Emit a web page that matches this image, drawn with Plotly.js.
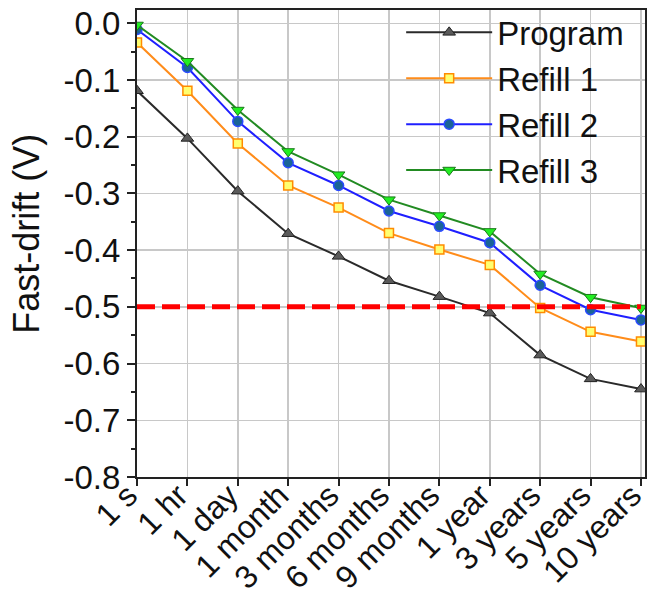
<!DOCTYPE html>
<html>
<head>
<meta charset="utf-8">
<script src="https://cdn.plot.ly/plotly-3.0.1.min.js"></script>
<style>html,body{margin:0;padding:0;background:#fff;}</style>
</head>
<body>
<div id="chart" style="width:649px;height:602px;"></div>
<script>
const categories = ['1 s','1 hr','1 day','1 month','3 months','6 months','9 months','1 year','3 years','5 years','10 years'];
const program = [-0.119,-0.203,-0.296,-0.371,-0.411,-0.454,-0.482,-0.511,-0.585,-0.627,-0.645];
const refill1 = [-0.034,-0.119,-0.212,-0.286,-0.325,-0.370,-0.399,-0.426,-0.502,-0.544,-0.561];
const refill2 = [-0.011,-0.078,-0.173,-0.246,-0.286,-0.331,-0.358,-0.387,-0.462,-0.505,-0.523];
const refill3 = [-0.003,-0.067,-0.153,-0.226,-0.267,-0.311,-0.339,-0.367,-0.442,-0.483,-0.502];
const threshold = -0.5;
const yTickVals = [0,-0.1,-0.2,-0.3,-0.4,-0.5,-0.6,-0.7,-0.8];
const yTickText = ['0.0','-0.1','-0.2','-0.3','-0.4','-0.5','-0.6','-0.7','-0.8'];

const FONT = 'Liberation Sans, Arial, sans-serif';

const traces = [
  {x: categories, y: program, name:'Program', mode:'lines+markers', legendgroup:'a',
   line:{color:'#2a2a2a', width:2},
   marker:{symbol:'triangle-up', size:11, color:'#5a5a5a', line:{color:'#222', width:1}}},
  {x: categories, y: refill1, name:'Refill 1', mode:'lines+markers', legendgroup:'b',
   line:{color:'#ff8c1a', width:2},
   marker:{symbol:'square', size:9, color:'#ffff70', line:{color:'#ff8c00', width:1.5}}},
  {x: categories, y: refill2, name:'Refill 2', mode:'lines+markers', legendgroup:'c',
   line:{color:'#1f1fff', width:2},
   marker:{symbol:'circle', size:10, color:'#1a6496', line:{color:'#2a4bff', width:1.5}}},
  {x: categories, y: refill3, name:'Refill 3', mode:'lines+markers', legendgroup:'d',
   line:{color:'#228b22', width:2},
   marker:{symbol:'triangle-down', size:11, color:'#22ee22', line:{color:'#1a7a1a', width:1}}},
  {x: [categories[0], categories[categories.length-1]], y: [threshold, threshold], mode:'lines',
   line:{color:'#ff0000', width:5, dash:'18px,7px'}, showlegend:false, hoverinfo:'skip'}
];

const layout = {
  width:649, height:602,
  margin:{l:137, r:4, t:10, b:125},
  paper_bgcolor:'#fff', plot_bgcolor:'#fff',
  font:{family:FONT, color:'#111', size:33},
  showlegend:true,
  legend:{x:0.52, y:1.012, xanchor:'left', yanchor:'top', bgcolor:'rgba(0,0,0,0)',
    font:{family:FONT, size:33, color:'#111'}, tracegroupgap:3, itemwidth:86,
    traceorder:'normal'},
  xaxis:{type:'category', categoryorder:'array', categoryarray:categories, range:[0, 10.08],
    showgrid:true, gridcolor:'#c8c8c8', gridwidth:1.5,
    showline:true, linecolor:'#222', linewidth:2, mirror:true,
    ticks:'outside', ticklen:7, tickwidth:2, tickcolor:'#222',
    tickangle:-45, tickfont:{family:FONT, size:32, color:'#111'}, zeroline:false,
    ticklabelstandoff:-22, ticklabelshift:-9},
  yaxis:{range:[-0.8, 0.0234], tickmode:'array', tickvals:yTickVals, ticktext:yTickText,
    showgrid:true, gridcolor:'#c8c8c8', gridwidth:1.5, zeroline:false,
    showline:true, linecolor:'#222', linewidth:2, mirror:true,
    ticks:'outside', ticklen:8, tickwidth:2, tickcolor:'#222',
    minor:{tickmode:'linear', tick0:0, dtick:0.05, ticks:'outside', ticklen:4, tickwidth:2, tickcolor:'#222', showgrid:false},
    tickfont:{family:FONT, size:33, color:'#111'}},
  annotations:[{text:'Fast-drift (V)', xref:'paper', yref:'paper', x:-0.2165, y:0.521,
    xanchor:'center', yanchor:'middle', textangle:-90, showarrow:false,
    font:{family:FONT, size:36, color:'#111'}}]
};

Plotly.newPlot('chart', traces, layout, {displayModeBar:false, staticPlot:true});
</script>
</body>
</html>
